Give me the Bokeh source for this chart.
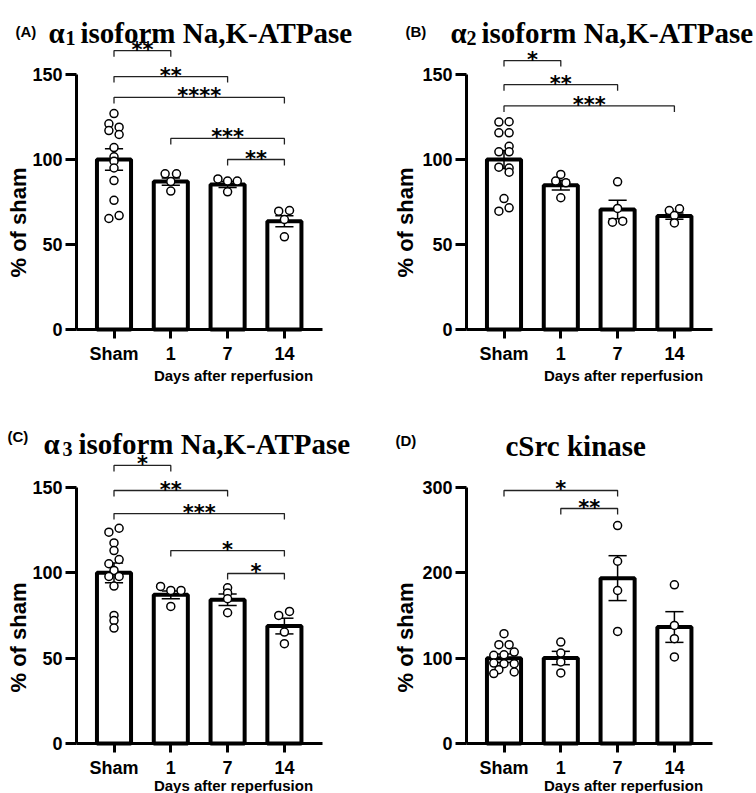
import math
from bokeh.plotting import figure
from bokeh.models import Range1d, FixedTicker, Label
from bokeh.layouts import column, row
from bokeh.embed import file_html
from bokeh.resources import INLINE

# ---------------- data ----------------
categories = ["Sham", "1", "7", "14"]

# (A) alpha1 isoform
a_means = [100.0, 87.0, 85.3, 63.7]
a_sems = [6.3, 2.1, 1.7, 3.2]
a_sham = [127, 121, 117, 119, 114.7, 107, 101.6, 99, 95, 87.6, 76, 65.3, 67]
a_sham_jit = [0, -0.09, -0.09, 0.09, 0.09, 0, 0, 0, 0, 0, 0, -0.09, 0.09]
a_d1 = [91.6, 91.6, 87.0, 81.4]
a_d1_jit = [-0.1, 0.1, 0, 0]
a_d7 = [88.6, 87.3, 87.3, 81.0]
a_d7_jit = [-0.17, 0, 0.17, 0]
a_d14 = [69.6, 70.0, 64.7, 54.5]
a_d14_jit = [-0.1, 0.09, 0, 0]
a_sig_from = [0, 0, 0, 1, 2]
a_sig_to = [1, 2, 3, 3, 3]
a_sig_y = [164, 148.8, 136.5, 112.4, 100]
a_sig_txt = ["**", "**", "****", "***", "**"]

# (B) alpha2 isoform
b_means = [100.0, 84.9, 70.6, 66.7]
b_sems = [5.3, 2.9, 5.4, 1.8]
b_sham = [122, 122.2, 115.7, 115.7, 107.8, 104.5, 104.5, 95.5, 95, 92.5, 77, 71.6, 69.6]
b_sham_jit = [-0.09, 0.09, -0.09, 0.09, 0.09, -0.09, 0.09, -0.09, 0.09, 0.09, 0, 0.09, -0.09]
b_d1 = [91.2, 87.3, 86.3, 77.5]
b_d1_jit = [0, -0.09, 0.09, 0]
b_d7 = [86.9, 71.2, 63.1, 63.7]
b_d7_jit = [0, 0, -0.09, 0.09]
b_d14 = [70.0, 71.0, 67.0, 62.7]
b_d14_jit = [-0.09, 0.09, 0, 0]
b_sig_from = [0, 0, 0]
b_sig_to = [1, 2, 3]
b_sig_y = [158.2, 144, 131.5]
b_sig_txt = ["*", "**", "***"]

# (C) alpha3 isoform
c_means = [100.0, 87.1, 84.2, 68.8]
c_sems = [5.8, 2.3, 3.4, 4.6]
c_sham = [126.1, 123.8, 117.5, 113, 107.8, 105.3, 101.4, 97.9, 97.9, 92.2, 75, 72, 67.6]
c_sham_jit = [0.09, -0.09, 0, 0, 0.09, -0.09, 0, -0.09, 0.09, 0, 0, 0, 0]
c_d1 = [92.0, 89.7, 89.7, 80.3]
c_d1_jit = [-0.18, 0, 0.18, 0]
c_d7 = [91.2, 88.1, 84.8, 76.6]
c_d7_jit = [0, 0, 0, 0]
c_d14 = [75.0, 77.4, 65.3, 58.5]
c_d14_jit = [-0.1, 0.09, 0, 0]
c_sig_from = [0, 0, 0, 1, 2]
c_sig_to = [1, 2, 3, 3, 3]
c_sig_y = [162.9, 148.2, 134.7, 113, 99.6]
c_sig_txt = ["*", "**", "***", "*", "*"]

# (D) cSrc kinase
d_means = [100.0, 100.2, 193.8, 136.5]
d_sems = [5.0, 7.8, 26.3, 18.0]
d_sham = [128.7, 115.8, 115.8, 103.3, 107.2, 104, 94.3, 93.6, 93.6, 86.5, 81.9, 83.8]
d_sham_jit = [0, -0.09, 0.09, -0.18, 0.18, 0, -0.18, 0, 0.18, -0.09, -0.18, 0.18]
d_d1 = [118.9, 106.0, 95.5, 82.7]
d_d1_jit = [0, 0, 0, 0]
d_d7 = [255.4, 213.6, 179.3, 131.4]
d_d7_jit = [0, 0, 0, 0]
d_d14 = [186.0, 138.4, 122.8, 101.4]
d_d14_jit = [0, 0, 0, 0]
d_sig_from = [0, 1]
d_sig_to = [2, 2]
d_sig_y = [296.5, 275.4]
d_sig_txt = ["*", "**"]

y_ticks_small = [0, 50, 100, 150]
y_ticks_big = [0, 100, 200, 300]

SANS = "Liberation Sans"
SERIF = "Liberation Serif"
PPX = 56.8  # pixels per category step


def to_data(geo, rx, ry):
    return (rx - geo["cx"]) / PPX, (geo["zy"] - ry) / geo["ppu"]


def lab(p, geo, rx, ry, text, size, font=SANS, align="left", baseline="alphabetic", angle=0.0):
    x, y = to_data(geo, rx, ry)
    p.add_layout(Label(x=x, y=y, text=text, text_font=font, text_font_size=f"{size}px",
                       text_font_style="bold", text_color="black",
                       text_align=align, text_baseline=baseline, angle=angle))


def panel(geo, means, sems, groups, jits, sig_from, sig_to, sig_y, sig_txt, yticks):
    ppu = geo["ppu"]
    x0, y1 = to_data(geo, geo["left"], geo["top"])
    x1, y0 = to_data(geo, geo["left"] + geo["w"], geo["top"] + geo["h"])
    ax_x0 = to_data(geo, geo["axl"], 0)[0]
    ax_x1 = to_data(geo, geo["axr"], 0)[0]
    p = figure(width=geo["w"], height=geo["h"],
               x_range=Range1d(x0, x1), y_range=Range1d(y0, y1),
               output_backend="svg", toolbar_location=None, title=None,
               min_border=0, min_border_left=0, min_border_right=0,
               min_border_top=0, min_border_bottom=0,
               outline_line_color=None, background_fill_color="white",
               border_fill_color="white")
    p.xgrid.visible = False
    p.ygrid.visible = False

    xs = list(range(len(categories)))
    p.vbar(x=xs, top=means, bottom=0, width=0.6, fill_color="white",
           line_color="black", line_width=4)

    lo = [m - s for m, s in zip(means, sems)]
    hi = [m + s for m, s in zip(means, sems)]
    p.segment(x0=xs, y0=lo, x1=xs, y1=hi, line_color="black", line_width=1.5)
    cw = 0.16
    p.segment(x0=[x - cw for x in xs], y0=hi, x1=[x + cw for x in xs], y1=hi,
              line_color="black", line_width=1.5)
    p.segment(x0=[x - cw for x in xs], y0=lo, x1=[x + cw for x in xs], y1=lo,
              line_color="black", line_width=1.5)

    px, py = [], []
    for i, (g, j) in enumerate(zip(groups, jits)):
        px += [i + d for d in j]
        py += list(g)
    p.scatter(px, py, marker="circle", size=8, fill_color="white",
              line_color="black", line_width=1.5)

    tick = 6 / ppu
    for f, t, y, s in zip(sig_from, sig_to, sig_y, sig_txt):
        p.line([f, f, t, t], [y - tick, y, y, y - tick], line_color="#222222", line_width=1.3)
        p.add_layout(Label(x=(f + t) / 2, y=y, y_offset=1, text=s,
                           text_font="DejaVu Sans", text_font_size="21px",
                           text_font_style="bold", text_color="black",
                           text_align="center", text_baseline="alphabetic"))

    for ax in (p.xaxis[0], p.yaxis[0]):
        ax.axis_line_width = 3
        ax.axis_line_color = "black"
        ax.major_tick_line_width = 3
        ax.major_tick_line_color = "black"
        ax.major_tick_in = 0
        ax.minor_tick_line_color = None
        ax.major_label_text_font = SANS
        ax.major_label_text_font_style = "bold"
        ax.major_label_text_font_size = "18px"
        ax.major_label_text_color = "black"
    p.yaxis.ticker = FixedTicker(ticks=yticks)
    p.yaxis.bounds = (0, yticks[-1])
    p.yaxis.fixed_location = ax_x0
    p.yaxis.major_tick_out = 11
    p.yaxis.major_label_standoff = 3
    p.xaxis.ticker = FixedTicker(ticks=xs)
    p.xaxis.major_label_overrides = {i: c for i, c in enumerate(categories)}
    p.xaxis.bounds = (ax_x0, ax_x1)
    p.xaxis.fixed_location = 0
    p.xaxis.major_tick_out = 9
    p.xaxis.major_label_standoff = 5
    return p


# geometry in reference-picture pixels
geoA = dict(left=0, top=0, w=390, h=400, cx=113.5, zy=329, ppu=1.7, axl=76, axr=322)
geoB = dict(left=390, top=0, w=366, h=400, cx=503.5, zy=329, ppu=1.7, axl=466, axr=712)
geoC = dict(left=0, top=400, w=390, h=393, cx=113.5, zy=743, ppu=1.707, axl=76, axr=322)
geoD = dict(left=390, top=400, w=366, h=393, cx=503.5, zy=743, ppu=0.8533, axl=466, axr=712)

pA = panel(geoA, a_means, a_sems, [a_sham, a_d1, a_d7, a_d14],
           [a_sham_jit, a_d1_jit, a_d7_jit, a_d14_jit],
           a_sig_from, a_sig_to, a_sig_y, a_sig_txt, y_ticks_small)
pB = panel(geoB, b_means, b_sems, [b_sham, b_d1, b_d7, b_d14],
           [b_sham_jit, b_d1_jit, b_d7_jit, b_d14_jit],
           b_sig_from, b_sig_to, b_sig_y, b_sig_txt, y_ticks_small)
pC = panel(geoC, c_means, c_sems, [c_sham, c_d1, c_d7, c_d14],
           [c_sham_jit, c_d1_jit, c_d7_jit, c_d14_jit],
           c_sig_from, c_sig_to, c_sig_y, c_sig_txt, y_ticks_small)
pD = panel(geoD, d_means, d_sems, [d_sham, d_d1, d_d7, d_d14],
           [d_sham_jit, d_d1_jit, d_d7_jit, d_d14_jit],
           d_sig_from, d_sig_to, d_sig_y, d_sig_txt, y_ticks_big)

# titles
lab(pA, geoA, 15, 31, "(A)", 15)
lab(pA, geoA, 48, 32, "α", 29, SERIF)
lab(pA, geoA, 65, 37, "1", 20, SERIF)
lab(pA, geoA, 80, 32, "isoform Na,K-ATPase", 29, SERIF)

lab(pB, geoB, 405, 31, "(B)", 15)
lab(pB, geoB, 450, 32, "α", 29, SERIF)
lab(pB, geoB, 466, 37, "2", 20, SERIF)
lab(pB, geoB, 481, 32, "isoform Na,K-ATPase", 29, SERIF)

lab(pC, geoC, 7, 436, "(C)", 15)
lab(pC, geoC, 43, 443, "α", 29, SERIF)
lab(pC, geoC, 62, 448, "3", 20, SERIF)
lab(pC, geoC, 78, 443, "isoform Na,K-ATPase", 29, SERIF)

lab(pD, geoD, 395, 440, "(D)", 15)
lab(pD, geoD, 505, 445, "cSrc kinase", 29, SERIF)

# axis titles
for p, g, yx, yy, dx, dy in [(pA, geoA, 18, 222, 233, 375), (pB, geoB, 405, 222, 623, 375),
                             (pC, geoC, 18, 637, 233, 785), (pD, geoD, 405, 637, 623, 785)]:
    lab(p, g, yx, yy, "% of sham", 22, align="center", baseline="middle", angle=math.pi / 2)
    lab(p, g, dx, dy, "Days after reperfusion", 15, align="center")

layout = column(row(pA, pB), row(pC, pD))
open("out.html", "w").write(file_html(layout, INLINE))
